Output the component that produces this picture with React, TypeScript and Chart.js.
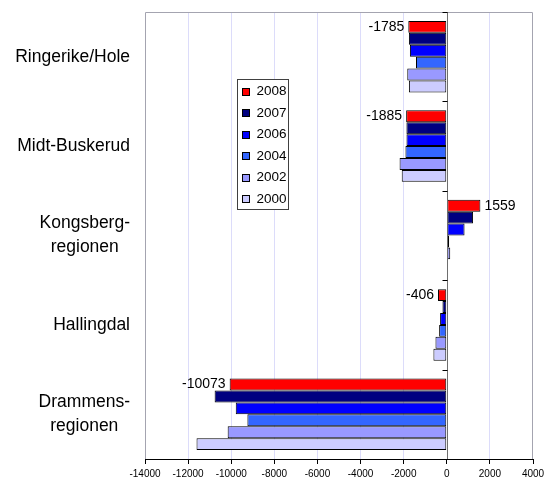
import React, { useEffect, useRef } from 'react';
import { Chart, registerables } from 'chart.js';

Chart.register(...registerables);

const FONT = "'Liberation Sans', Arial, Helvetica, sans-serif";

const categories: string[][] = [
  ['Ringerike/Hole'],
  ['Midt-Buskerud'],
  ['Kongsberg-', 'regionen'],
  ['Hallingdal'],
  ['Drammens-', 'regionen'],
];

const seriesNames = ['2008', '2007', '2006', '2004', '2002', '2000'];

const values2008 = [-1785, -1885, 1559, -406, -10073];
const values2007 = [-1757, -1872, 1220, -200, -10770];
const values2006 = [-1711, -1870, 825, -310, -9790];
const values2004 = [-1428, -1918, 110, -355, -9250];
const values2002 = [-1833, -2190, 160, -525, -10165];
const values2000 = [-1757, -2090, 0, -620, -11610];

const seriesValues = [values2008, values2007, values2006, values2004, values2002, values2000];
const seriesColors = ['#ff0000', '#000080', '#0000ff', '#3366ff', '#9999ff', '#ccccff'];

const xMin = -14000;
const xMax = 4000;
const xStep = 2000;

const decorPlugin = {
  id: 'excelDecor',
  beforeDatasetsDraw(chart: any) {
    const { ctx, chartArea: a } = chart;
    ctx.save();
    ctx.strokeStyle = '#a4a4b0';
    ctx.lineWidth = 1;
    ctx.beginPath();
    ctx.moveTo(Math.round(a.left) + 0.5, a.bottom);
    ctx.lineTo(Math.round(a.left) + 0.5, Math.round(a.top) + 0.5);
    ctx.lineTo(Math.round(a.right) - 0.5, Math.round(a.top) + 0.5);
    ctx.lineTo(Math.round(a.right) - 0.5, a.bottom);
    ctx.stroke();
    ctx.restore();
  },
  afterDatasetsDraw(chart: any) {
    const { ctx, chartArea: a } = chart;
    const xs = chart.scales.x;
    const ys = chart.scales.y;
    const x0 = Math.round(xs.getPixelForValue(0)) + 0.5;
    ctx.save();
    ctx.strokeStyle = '#6e6e6e';
    ctx.lineWidth = 1;
    ctx.beginPath();
    ctx.moveTo(x0, a.top);
    ctx.lineTo(x0, a.bottom);
    ctx.stroke();
    ctx.strokeStyle = '#000';
    const n = chart.data.labels.length;
    for (let i = 0; i <= n; i++) {
      const y = Math.round(ys.getPixelForValue(i - 0.5)) + 0.5;
      ctx.beginPath();
      ctx.moveTo(x0 - 5, y);
      ctx.lineTo(x0, y);
      ctx.stroke();
    }
    const meta = chart.getDatasetMeta(0);
    const data = chart.data.datasets[0].data as number[];
    ctx.font = `14px ${FONT}`;
    ctx.fillStyle = '#000';
    ctx.textBaseline = 'middle';
    meta.data.forEach((el: any, i: number) => {
      const v = data[i];
      if (v < 0) {
        ctx.textAlign = 'right';
        ctx.fillText(String(v), el.x - 4, el.y);
      } else {
        ctx.textAlign = 'left';
        ctx.fillText(String(v), el.x + 4, el.y);
      }
    });
    ctx.restore();
  },
  afterDraw(chart: any) {
    const { ctx, chartArea: a } = chart;
    const ys = chart.scales.y;
    ctx.save();
    ctx.font = `17.5px ${FONT}`;
    ctx.fillStyle = '#000';
    ctx.textBaseline = 'middle';
    ctx.textAlign = 'center';
    const lineH = 24;
    (chart.data.labels as string[][]).forEach((lines, i) => {
      const yc = ys.getPixelForValue(i);
      const w = Math.max(...lines.map((l) => ctx.measureText(l).width));
      const xc = a.left - 15 - w / 2;
      const y0 = yc - ((lines.length - 1) * lineH) / 2;
      lines.forEach((l, j) => ctx.fillText(l, xc, y0 + j * lineH));
    });
    const lx = Math.round(a.left + 92) + 0.5;
    const ly = Math.round(a.top + 67) + 0.5;
    const lw = 51;
    const lh = 130;
    ctx.fillStyle = '#fff';
    ctx.fillRect(lx, ly, lw, lh);
    ctx.strokeStyle = '#404040';
    ctx.lineWidth = 1;
    ctx.strokeRect(lx, ly, lw, lh);
    ctx.font = `13.5px ${FONT}`;
    ctx.textAlign = 'left';
    ctx.textBaseline = 'middle';
    chart.data.datasets.forEach((ds: any, i: number) => {
      const cy = ly + 12 + i * 21.5;
      const sy = Math.round(cy - 4) + 0.5;
      ctx.fillStyle = ds.backgroundColor;
      ctx.fillRect(lx + 5, sy, 7, 7);
      ctx.strokeStyle = '#000';
      ctx.strokeRect(lx + 5, sy, 7, 7);
      ctx.fillStyle = '#000';
      ctx.fillText(ds.label, lx + 19, cy);
    });
    ctx.restore();
  },
};

export default function App() {
  const ref = useRef<HTMLCanvasElement>(null);
  useEffect(() => {
    const chart = new Chart(ref.current as HTMLCanvasElement, {
      type: 'bar',
      data: {
        labels: categories,
        datasets: seriesNames.map((name, i) => ({
          label: name,
          data: seriesValues[i],
          backgroundColor: seriesColors[i],
          borderColor: '#000000',
          borderWidth: 1,
          borderSkipped: false,
          categoryPercentage: 0.8,
          barPercentage: 1,
        })),
      },
      options: {
        indexAxis: 'y',
        responsive: false,
        animation: false,
        layout: { padding: { top: 12, right: 12, left: 0, bottom: 0 } },
        plugins: { legend: { display: false }, tooltip: { enabled: false } },
        scales: {
          x: {
            type: 'linear',
            min: xMin,
            max: xMax,
            ticks: {
              stepSize: xStep,
              font: { family: FONT, size: 10 },
              color: '#000',
              maxRotation: 0,
              autoSkip: false,
              padding: 4,
              callback: (v: any) => String(v),
            },
            grid: {
              color: (c: any) =>
                c.tick && (c.tick.value === xMin || c.tick.value === xMax || c.tick.value === 0)
                  ? 'rgba(0,0,0,0)'
                  : '#dcdcfa',
              tickColor: '#000',
              tickLength: 5,
              lineWidth: 1,
            },
            border: { color: '#000', width: 1 },
            afterFit: (s: any) => {
              s.height = 18;
              s.paddingLeft = 0;
              s.paddingRight = 0;
            },
          },
          y: {
            type: 'category',
            ticks: { display: false },
            grid: { display: false },
            border: { display: false },
            afterFit: (s: any) => {
              s.width = 145;
              s.paddingTop = 0;
              s.paddingBottom = 0;
            },
          },
        },
      } as any,
      plugins: [decorPlugin],
    });
    return () => chart.destroy();
  }, []);
  return (
    <canvas
      ref={ref}
      width={545}
      height={477}
      style={{ position: 'absolute', left: 0, top: 0, width: 545, height: 477 }}
    />
  );
}
